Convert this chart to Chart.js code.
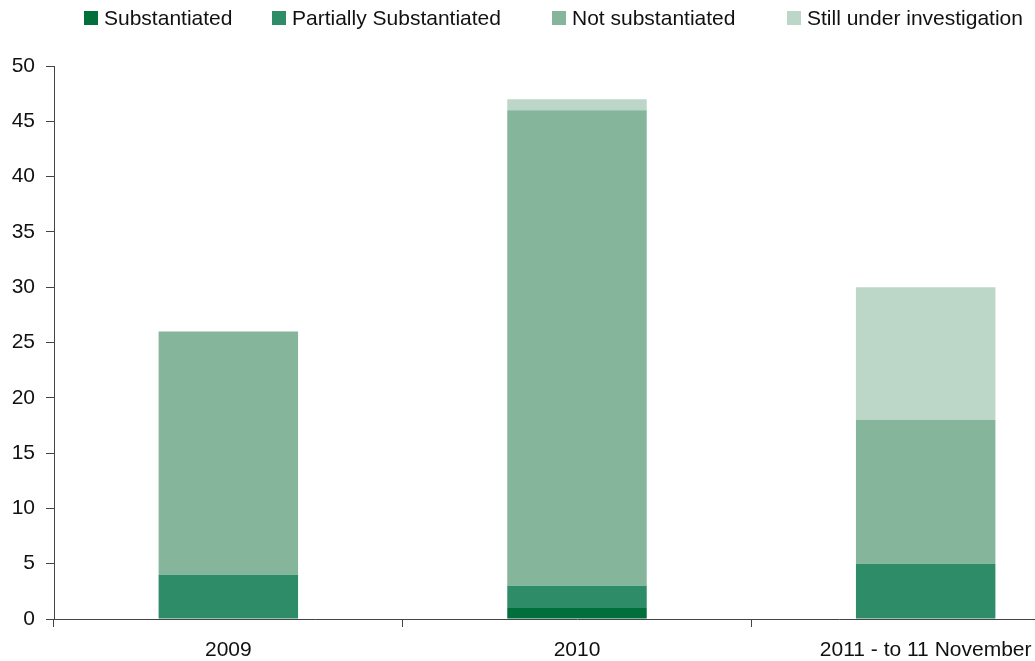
<!DOCTYPE html>
<html>
<head>
<meta charset="utf-8">
<script src="https://cdn.jsdelivr.net/npm/chart.js@4.4.0/dist/chart.umd.min.js"></script>
<style>
  html, body { margin: 0; padding: 0; background: #fff; overflow: hidden; }
  #wrap { width: 1100px; height: 661px; }
</style>
</head>
<body>
<div id="wrap"><canvas id="chart"></canvas></div>
<script>
// complaints outcome by year
const categories = ['2009', '2010', '2011 - to 11 November'];
const substantiated = [0, 1, 0];
const partiallySubstantiated = [4, 2, 5];
const notSubstantiated = [22, 43, 13];
const stillUnderInvestigation = [0, 1, 12];
const yTicks = [0, 5, 10, 15, 20, 25, 30, 35, 40, 45, 50];

const COLORS = {
  substantiated: '#006f3b',
  partially:     '#2e8c68',
  notSub:        '#85b59b',
  still:         '#bcd7c8',
  axis:          '#444444',
  text:          '#111111',
};

const FONT = { family: '"Liberation Sans", Arial, sans-serif', size: 21 };

// legend drawn across the top of the canvas (fixed slots like the original)
const LEGEND_X = [84, 272, 552, 787];
const topLegend = {
  id: 'topLegend',
  afterDraw(chart) {
    const ctx = chart.ctx;
    const box = 14, gap = 6, cy = 18;
    ctx.save();
    ctx.font = FONT.size + 'px ' + FONT.family;
    ctx.textBaseline = 'middle';
    ctx.textAlign = 'left';
    chart.data.datasets.forEach((ds, i) => {
      const x = LEGEND_X[i];
      ctx.fillStyle = ds.backgroundColor;
      ctx.fillRect(x, cy - box / 2, box, box);
      ctx.fillStyle = COLORS.text;
      ctx.fillText(ds.label, x + box + gap, cy + 1);
    });
    ctx.restore();
  }
};

new Chart(document.getElementById('chart'), {
  type: 'bar',
  data: {
    labels: categories,
    datasets: [
      { label: 'Substantiated', data: substantiated, backgroundColor: COLORS.substantiated },
      { label: 'Partially Substantiated', data: partiallySubstantiated, backgroundColor: COLORS.partially },
      { label: 'Not substantiated', data: notSubstantiated, backgroundColor: COLORS.notSub },
      { label: 'Still under investigation', data: stillUnderInvestigation, backgroundColor: COLORS.still },
    ].map(ds => ({ borderWidth: 0, barPercentage: 0.4, categoryPercentage: 1.0, ...ds }))
  },
  options: {
    responsive: true,
    maintainAspectRatio: false,
    animation: false,
    layout: { padding: { top: 66, left: 0, right: 0, bottom: 0 } },
    plugins: {
      legend: { display: false },
      tooltip: { enabled: false }
    },
    scales: {
      x: {
        stacked: true,
        grid: { offset: true, drawOnChartArea: false, drawTicks: true, tickLength: 8, color: COLORS.axis },
        border: { display: true, color: COLORS.axis, width: 1 },
        ticks: { color: COLORS.text, font: FONT, padding: 11, maxRotation: 0 },
        afterFit(scale) { scale.height = 42; }
      },
      y: {
        stacked: true,
        min: 0,
        max: 50,
        afterBuildTicks(scale) { scale.ticks = yTicks.map(v => ({ value: v })); },
        grid: { drawOnChartArea: false, drawTicks: true, tickLength: 8, color: COLORS.axis },
        border: { display: true, color: COLORS.axis, width: 1 },
        ticks: { color: COLORS.text, font: FONT, padding: 11 },
        afterFit(scale) { scale.width = 54; }
      }
    }
  },
  plugins: [topLegend]
});
</script>
</body>
</html>
